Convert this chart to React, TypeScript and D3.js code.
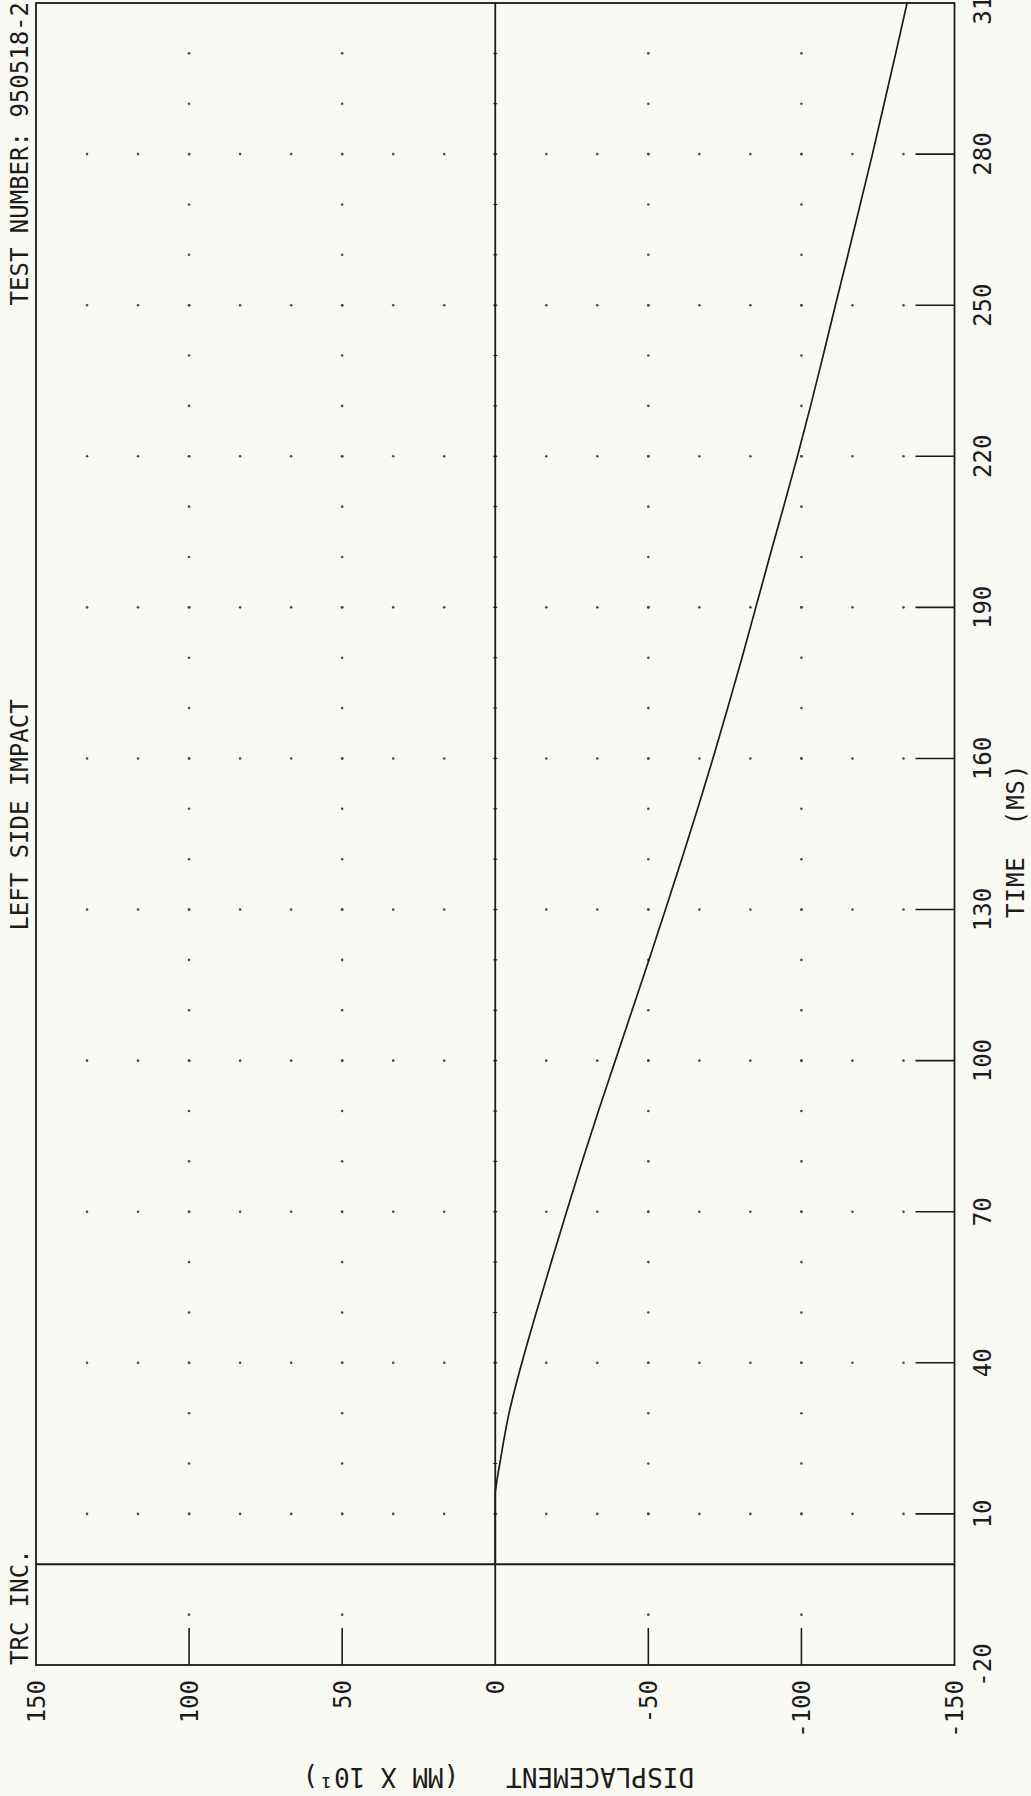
import React from "react";
import * as d3 from "d3";

const TIME_MS = [0, 10, 14, 16, 18, 20, 25, 30, 35, 40, 50, 60, 70, 80, 90, 100, 110, 120, 130, 140, 150, 160, 170, 180, 190, 200, 210, 220, 230, 240, 250, 260, 270, 280, 290, 300, 310];
const DISPLACEMENT = [0, 0, 0, -0.4, -0.9, -1.5, -2.9, -4.5, -6.5, -8.7, -13.4, -18.3, -23.3, -28.4, -33.7, -39.2, -44.7, -50.2, -55.6, -60.9, -66.1, -71.1, -75.9, -80.6, -85.1, -89.6, -94.2, -98.7, -103.0, -107.1, -111.1, -115.2, -119.2, -123.2, -127.0, -130.8, -134.5];

const TIME_TICKS = [-20, 10, 40, 70, 100, 130, 160, 190, 220, 250, 280, 310];
const DISP_TICKS = [150, 100, 50, 0, -50, -100, -150];

const TITLE_LEFT = "TRC INC.";
const TITLE_MID = "LEFT SIDE IMPACT";
const TITLE_RIGHT = "TEST NUMBER: 950518-2";
const X_TITLE = "TIME  (MS)";
const Y_TITLE = "DISPLACEMENT   (MM X 10\u00B9)";

const W = 1031;
const H = 1796;
const FONT = "'DejaVu Sans Mono', 'Liberation Mono', monospace";
const INK = "#1c1c1c";
const PRE = { whiteSpace: "pre" as const };

export default function App() {
  const v = d3.scaleLinear().domain([150, -150]).range([36, 954.5]);
  const t = d3.scaleLinear().domain([-20, 310]).range([1665, 3]);

  const line = d3
    .line<number>()
    .x((_, i) => v(DISPLACEMENT[i]))
    .y((_, i) => t(TIME_MS[i]))
    .curve(d3.curveMonotoneY);

  const innerDisp = DISP_TICKS.filter((d) => d !== 150 && d !== -150 && d !== 0);
  const innerTime = TIME_TICKS.filter((d) => d !== -20 && d !== 310);

  const colDots: [number, number][] = [];
  innerDisp.forEach((d) => {
    d3.range(-10, 301, 10).forEach((tm) => {
      if (tm === 0) return;
      colDots.push([v(d), t(tm)]);
    });
  });
  const rowDots: [number, number][] = [];
  innerTime.forEach((tm) => {
    d3.range(1, 18).forEach((k) => {
      const dv = 150 - (k * 50) / 3;
      rowDots.push([v(dv), t(tm)]);
    });
  });
  const zeroMarks = d3.range(10, 301, 10).map((tm) => t(tm));

  return (
    <svg
      width={W}
      height={H}
      viewBox={`0 0 ${W} ${H}`}
      style={{ position: "absolute", left: 0, top: 0, background: "#fafaf5" }}
    >
      <rect x={0} y={0} width={W} height={H} fill="#fafaf5" />

      {colDots.map(([x, y], i) => (
        <circle key={"c" + i} cx={x} cy={y} r={1.3} fill="#4a4a4a" />
      ))}
      {rowDots.map(([x, y], i) => (
        <circle key={"r" + i} cx={x} cy={y} r={1.3} fill="#4a4a4a" />
      ))}

      <rect
        x={v(150)}
        y={t(310)}
        width={v(-150) - v(150)}
        height={t(-20) - t(310)}
        fill="none"
        stroke={INK}
        strokeWidth={1.8}
      />
      <line x1={v(150)} x2={v(-150)} y1={t(0)} y2={t(0)} stroke={INK} strokeWidth={1.8} />
      <line x1={v(0)} x2={v(0)} y1={t(310)} y2={t(-20)} stroke={INK} strokeWidth={1.8} />
      {zeroMarks.map((y, i) => (
        <line key={"z" + i} x1={v(0) - 2} x2={v(0) + 2} y1={y} y2={y} stroke={INK} strokeWidth={1} />
      ))}

      {innerDisp.map((d) => (
        <line key={"bt" + d} x1={v(d)} x2={v(d)} y1={t(-20)} y2={t(-20) - 37} stroke={INK} strokeWidth={1.6} />
      ))}
      {innerTime.map((tm) => (
        <line key={"rt" + tm} x1={v(-150)} x2={v(-150) - 39} y1={t(tm)} y2={t(tm)} stroke={INK} strokeWidth={1.6} />
      ))}

      <path d={line(TIME_MS) || ""} fill="none" stroke={INK} strokeWidth={1.7} />

      {DISP_TICKS.map((d) => (
        <text
          key={"dl" + d}
          transform={`translate(${v(d) + 8.8},${1680}) rotate(-90)`}
          textAnchor="end"
          fontFamily={FONT}
          fontSize={24}
          fill={INK}
        >
          {d}
        </text>
      ))}
      {TIME_TICKS.map((tm) => (
        <text
          key={"tl" + tm}
          transform={`translate(${991},${t(tm)}) rotate(-90)`}
          textAnchor="middle"
          fontFamily={FONT}
          fontSize={24}
          fill={INK}
        >
          {tm}
        </text>
      ))}

      <text
        transform={`translate(1024,918) rotate(-90)`}
        textAnchor="start"
        fontFamily={FONT}
        fontSize={24}
        letterSpacing={1}
        fill={INK}
        style={PRE}
      >
        {X_TITLE}
      </text>
      <text
        transform={`translate(694,1768) rotate(180)`}
        textAnchor="start"
        fontFamily={FONT}
        fontSize={26}
        fill={INK}
        style={PRE}
      >
        {Y_TITLE}
      </text>

      <text
        transform={`translate(28,1665) rotate(-90)`}
        textAnchor="start"
        fontFamily={FONT}
        fontSize={24}
        fill={INK}
      >
        {TITLE_LEFT}
      </text>
      <text
        transform={`translate(28,815) rotate(-90)`}
        textAnchor="middle"
        fontFamily={FONT}
        fontSize={24}
        fill={INK}
      >
        {TITLE_MID}
      </text>
      <text
        transform={`translate(28,2) rotate(-90)`}
        textAnchor="end"
        fontFamily={FONT}
        fontSize={24}
        fill={INK}
      >
        {TITLE_RIGHT}
      </text>
    </svg>
  );
}
